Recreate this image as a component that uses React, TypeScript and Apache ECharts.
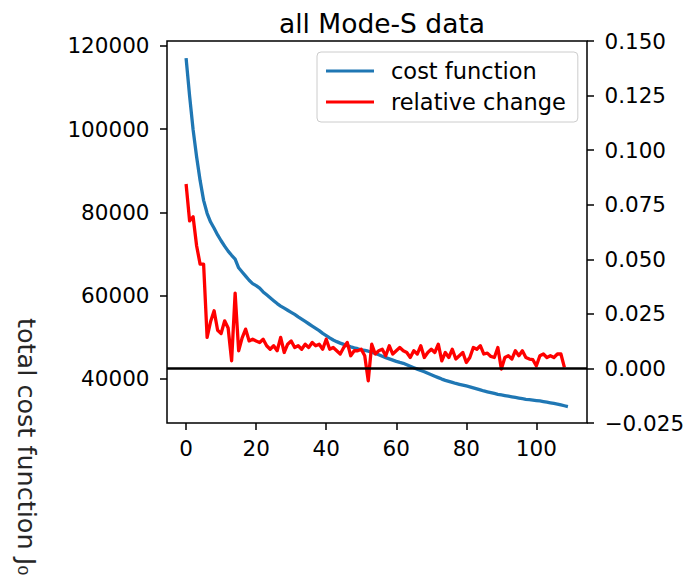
import React, { useEffect, useRef } from "react";
import * as echarts from "echarts";

const chartTitle = "all Mode-S data";
const seriesNames = ["cost function", "relative change"];
const yAxisLabel = "total cost function J₀";

const xTicks = [0, 20, 40, 60, 80, 100];
const leftTicks = [40000, 60000, 80000, 100000, 120000];
const rightTicks = [-0.025, 0, 0.025, 0.05, 0.075, 0.1, 0.125, 0.15];

// total cost function per iteration (left axis)
const costFunction = [
  117100, 108000, 99900, 93400, 87700, 82900, 79800, 77700, 76200, 74600,
  73200, 71900, 70700, 69700, 68800, 66700, 65700, 64700, 63700, 62900,
  62400, 61800, 60900, 60200, 59500, 58800, 58100, 57500, 57000, 56500,
  56000, 55500, 54900, 54350, 53800, 53250, 52700, 52150, 51600, 50950,
  50400, 49850, 49350, 48950, 48600, 48300, 48000, 47700, 47450, 47250,
  47000, 46850, 46650, 46400, 46100, 45800, 45450, 45100, 44800, 44500,
  44200, 43950, 43750, 43400, 43050, 42700, 42350, 42000, 41700, 41350,
  41000, 40650, 40300, 39950, 39650, 39400, 39150, 38900, 38700, 38500,
  38300, 38100, 37850, 37600, 37350, 37100, 36900, 36700, 36500, 36300,
  36150, 36000, 35850, 35700, 35550, 35400, 35250, 35100, 35000, 34900,
  34800, 34700, 34550, 34400, 34250, 34100, 33950, 33750, 33550, 33350,
];

// relative change per iteration (right axis)
const relativeChange = [
  0.0845, 0.0676, 0.0695, 0.0562, 0.0478, 0.0478, 0.0142, 0.0215, 0.0264, 0.0175,
  0.016, 0.0218, 0.0185, 0.0035, 0.0345, 0.0081, 0.014, 0.018, 0.0126, 0.0134,
  0.0126, 0.0119, 0.0134, 0.0104, 0.0088, 0.0104, 0.0081, 0.0142, 0.0073, 0.0111,
  0.0126, 0.0096, 0.0104, 0.0088, 0.0111, 0.0096, 0.0119, 0.0104, 0.0111, 0.0088,
  0.0134, 0.0088, 0.0096, 0.0081, 0.0066, 0.0096, 0.0119, 0.0058, 0.0081, 0.0081,
  0.0088, 0.0058, -0.0057, 0.0111, 0.0066, 0.0081, 0.0088, 0.0058, 0.0104, 0.0066,
  0.0081, 0.0096, 0.0081, 0.0073, 0.005, 0.0081, 0.0066, 0.0104, 0.005, 0.0073,
  0.0088, 0.0073, 0.0111, 0.0035, 0.0073, 0.005, 0.0088, 0.0043, 0.0058, 0.0073,
  0.0027, 0.005, 0.0096, 0.0088, 0.0104, 0.0066, 0.007, 0.0055, 0.005, 0.0096,
  -0.0003, 0.005, 0.0058, 0.0043, 0.0081, 0.0058, 0.0081, 0.005, 0.0043, 0.004,
  0.0012, 0.0058, 0.0066, 0.005, 0.0058, 0.005, 0.0066, 0.0066, 0.0005,
];

const FONT = "DejaVu Sans";

export default function App() {
  const ref = useRef<HTMLDivElement>(null);

  useEffect(() => {
    if (!ref.current) return;
    const chart = echarts.init(ref.current, null, { renderer: "svg" });
    const tickStyle = { color: "#000", width: 1.5 };
    const labelStyle = { fontSize: 21.5, fontFamily: FONT, color: "#000" };

    chart.setOption({
      animation: false,
      backgroundColor: "#fff",
      title: {
        text: chartTitle,
        left: 377,
        top: 5,
        textAlign: "center",
        textStyle: { fontSize: 26.5, fontWeight: "normal", fontFamily: FONT, color: "#000" },
      },
      legend: {
        orient: "vertical",
        left: 317,
        top: 52,
        icon: "rect",
        itemWidth: 48,
        itemHeight: 3,
        itemGap: 5,
        padding: [6, 12, 7, 9],
        backgroundColor: "#fff",
        borderColor: "#cccccc",
        borderWidth: 1,
        borderRadius: 4,
        selectedMode: false,
        textStyle: { fontSize: 22.5, fontFamily: FONT, color: "#000", lineHeight: 26, padding: [0, 0, 0, 12] },
        data: seriesNames,
      },
      grid: {
        left: 167,
        top: 41,
        width: 420,
        height: 382,
        show: true,
        borderColor: "#000",
        borderWidth: 1.5,
        backgroundColor: "transparent",
      },
      xAxis: {
        type: "value",
        min: -5.45,
        max: 114.45,
        axisLine: { show: false, onZero: false },
        splitLine: { show: false },
        axisTick: { show: true, customValues: xTicks, length: 7, lineStyle: tickStyle },
        axisLabel: { customValues: xTicks, margin: 14, ...labelStyle },
      },
      yAxis: [
        {
          type: "value",
          position: "left",
          min: 29400,
          max: 121200,
          axisLine: { show: false, onZero: false },
          splitLine: { show: false },
          axisTick: { show: true, customValues: leftTicks, length: 7, lineStyle: tickStyle },
          axisLabel: {
            customValues: leftTicks,
            margin: 17.5,
            formatter: (v: number) => String(Math.round(v)),
            ...labelStyle,
          },
        },
        {
          type: "value",
          position: "right",
          min: -0.025,
          max: 0.15,
          axisLine: { show: false, onZero: false },
          splitLine: { show: false },
          axisTick: { show: true, customValues: rightTicks, length: 7, lineStyle: tickStyle },
          axisLabel: {
            customValues: rightTicks,
            margin: 17.5,
            formatter: (v: number) => (v < -1e-9 ? "\u2212" : "") + Math.abs(v).toFixed(3),
            ...labelStyle,
          },
        },
      ],
      graphic: [
        {
          type: "text",
          x: 27,
          y: 318,
          rotation: -Math.PI / 2,
          style: {
            text: yAxisLabel,
            fontSize: 25.5,
            fontFamily: FONT,
            fill: "#262626",
            textAlign: "left",
            textVerticalAlign: "middle",
          },
        },
      ],
      series: [
        {
          name: seriesNames[0],
          type: "line",
          yAxisIndex: 0,
          symbol: "none",
          showSymbol: false,
          color: "#1f77b4",
          lineStyle: { color: "#1f77b4", width: 3.3, join: "round" },
          data: costFunction.map((v, i) => [i, v]),
          z: 2,
        },
        {
          name: seriesNames[1],
          type: "line",
          yAxisIndex: 1,
          symbol: "none",
          showSymbol: false,
          color: "#ff0000",
          lineStyle: { color: "#ff0000", width: 3.3, join: "round" },
          data: relativeChange.map((v, i) => [i, v]),
          z: 3,
          markLine: {
            silent: true,
            symbol: ["none", "none"],
            label: { show: false },
            lineStyle: { color: "#000", width: 2.5, type: "solid" },
            data: [{ yAxis: 0 }],
            z: 4,
          },
        },
      ],
    });

    return () => chart.dispose();
  }, []);

  return (
    <div
      ref={ref}
      style={{ position: "absolute", left: 0, top: 0, width: 689, height: 585 }}
    />
  );
}
